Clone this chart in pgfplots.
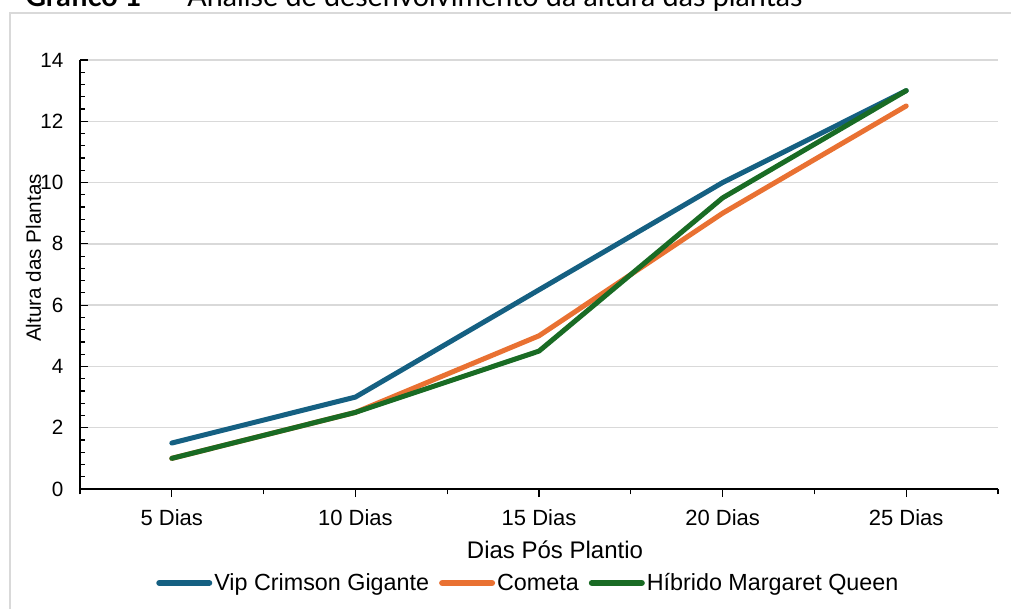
\documentclass[border=0pt]{standalone}
\usepackage{pgfplots}
\pgfplotsset{compat=1.18}
\usepackage{fontspec}
\setmainfont{Liberation Sans}
\newfontfamily\titlefont{Lato}
\definecolor{cblue}{HTML}{156082}
\definecolor{corange}{HTML}{E97132}
\definecolor{cgreen}{HTML}{196B24}
\definecolor{gridc}{HTML}{D9D9D9}
\begin{document}
\begin{tikzpicture}
\useasboundingbox (-60pt,-89.25pt) rectangle (698.25pt,366.75pt);
\clip (-60pt,-89.25pt) rectangle (698.25pt,366.75pt);
% chart area border
\draw[gridc, line width=1.2pt] (-52.5pt,-120pt) rectangle (720pt,356.8pt);
% title, cut off at the top like the reference
\node[anchor=base west, inner sep=0pt, font=\titlefont\fontsize{21.5}{24}\selectfont]
  at (-41.25pt,361.5pt) {\textbf{Gráfico 1} \ – \ Análise de desenvolvimento da altura das plantas};
\begin{axis}[
    at={(0pt,0pt)}, anchor=south west,
    width=688.5pt, height=321.75pt, scale only axis,
    xmin=-0.5, xmax=4.5, ymin=0, ymax=14,
    axis lines*=left,
    axis line style={black, line width=1.1pt},
    clip=false,
    xtick={0,...,4},
    xticklabels={5 Dias, 10 Dias, 15 Dias, 20 Dias, 25 Dias},
    minor xtick={-0.5,0.5,1.5,2.5,3.5,4.5},
    ytick={0,2,...,14},
    minor y tick num=4,
    ymajorgrids,
    major grid style={gridc, line width=1.1pt},
    tick align=inside,
    major tick length=6pt, minor tick length=4pt,
    tick style={black, line width=0.9pt},
    major x tick style={yshift=-6pt},
    minor x tick style={yshift=-4pt},
    xticklabel style={font=\fontsize{16.5}{19}\selectfont, yshift=-12pt},
    yticklabel style={/pgf/number format/assume math mode=true, font=\fontsize{15.5}{18}\selectfont, xshift=-9pt},
    legend style={at={(0.0828,-0.219)}, anchor=west, draw=none, fill=none, inner sep=0pt,
        legend columns=3, font=\fontsize{17.5}{20}\selectfont,
        nodes={inner xsep=1.5pt},
        /tikz/every even column/.append style={column sep=6pt}},
    legend image code/.code={\draw[#1, line width=4.5pt, line cap=round] (2.25pt,0pt) -- (39.75pt,0pt);},
    every axis plot/.append style={line width=3.75pt, line cap=round, line join=round, mark=none},
]
\addplot[cblue] coordinates {(0,1.5) (1,3) (2,6.5) (3,10) (4,13)};
\addlegendentry{Vip Crimson Gigante}
\addplot[corange] coordinates {(0,1) (1,2.5) (2,5) (3,9) (4,12.5)};
\addlegendentry{Cometa}
\addplot[cgreen] coordinates {(0,1) (1,2.5) (2,4.5) (3,9.5) (4,13)};
\addlegendentry{Híbrido Margaret Queen}
\end{axis}
\node[rotate=90, anchor=base, font=\fontsize{15.5}{18}\selectfont] at (-29.25pt,173.25pt) {Altura das Plantas};
\node[font=\fontsize{18}{21}\selectfont] at (356.25pt,-45.75pt) {Dias Pós Plantio};
\end{tikzpicture}
\end{document}
